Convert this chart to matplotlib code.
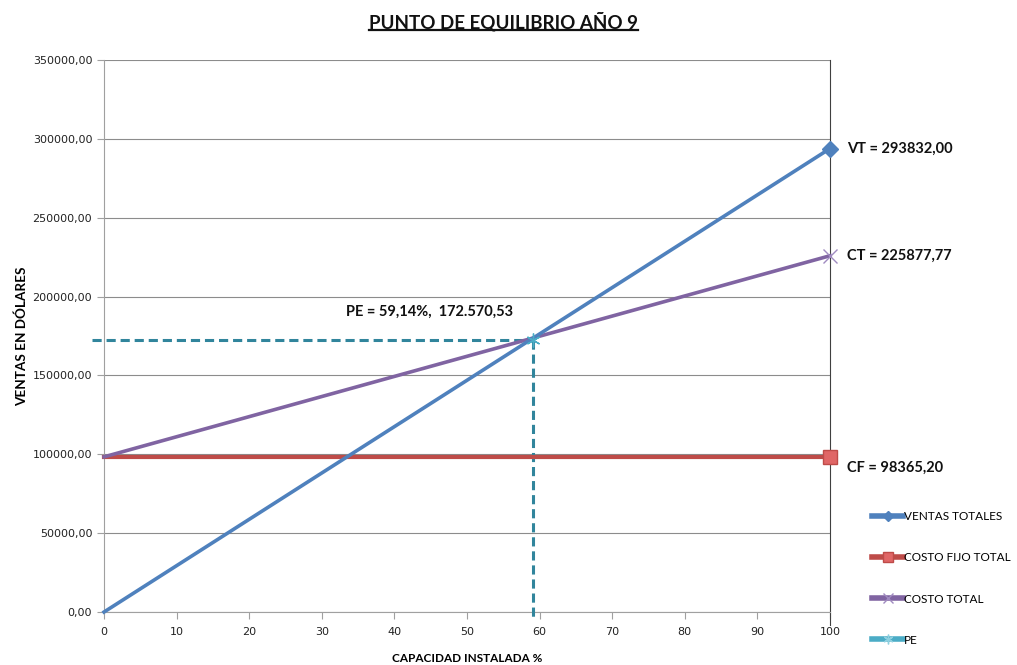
import matplotlib
matplotlib.use("Agg")
import matplotlib.pyplot as plt
from matplotlib.lines import Line2D
from matplotlib.ticker import FuncFormatter

# Break-even data (year 9)
capacidad = [0, 100]
ventas_totales = [0.0, 293832.00]
costo_fijo = [98365.20, 98365.20]
costo_total = [98365.20, 225877.77]
pe_x = 59.14
pe_y = 172570.53

y_ticks = [0, 50000, 100000, 150000, 200000, 250000, 300000, 350000]
x_ticks = [0, 10, 20, 30, 40, 50, 60, 70, 80, 90, 100]

C_VT = "#4F81BD"
C_CF = "#BE4B48"
C_CT = "#8064A2"
C_PE = "#4BACC6"
C_PE_DASH = "#31859C"

plt.rcParams['font.family'] = ['Lato', 'DejaVu Sans']

fig = plt.figure(figsize=(10.17, 6.65), dpi=100)
ax = fig.add_axes([0.1023, 0.0797, 0.8161 - 0.1023, 0.9098 - 0.0797])

ax.set_xlim(0, 100)
ax.set_ylim(0, 350000)
ax.set_yticks(y_ticks)
ax.set_xticks(x_ticks)
ax.yaxis.set_major_formatter(FuncFormatter(lambda v, p: f"{v:.2f}".replace(".", ",")))
ax.grid(axis="y", color="#8c8c8c", lw=0.8)
ax.set_axisbelow(True)
ax.spines["top"].set_visible(False)
ax.spines["left"].set_color("#a0a0a0")
ax.spines["bottom"].set_color("#a0a0a0")
ax.spines["right"].set_color("#404040")
ax.spines["right"].set_bounds(-8000, 350000)
ax.tick_params(axis="both", direction="out", length=5, color="#a0a0a0",
               labelsize=8, labelcolor="#222222")
for lab in ax.get_xticklabels() + ax.get_yticklabels():
    lab.set_family("DejaVu Sans")
ax.tick_params(axis="x", pad=6)

# PE guide lines
ax.plot([-1.6, pe_x], [pe_y, pe_y], ls=(0, (3, 1.6)), color=C_PE_DASH, lw=2.2, clip_on=False, zorder=3)
ax.plot([pe_x, pe_x], [pe_y, -3000], ls=(0, (3, 1.6)), color=C_PE_DASH, lw=2.2, clip_on=False, zorder=3)

ax.plot(capacidad, costo_fijo, color=C_CF, lw=3.0, marker="s", markevery=[1], ms=10,
        mfc="#E06666", mec=C_CF, clip_on=False, zorder=4)
ax.plot(capacidad, costo_total, color=C_CT, lw=2.6, marker="x", markevery=[1], ms=10,
        mew=1.0, mec="#A08BC0", clip_on=False, zorder=5)
ax.plot(capacidad, ventas_totales, color=C_VT, lw=2.6, marker="D", markevery=[1], ms=8,
        mfc=C_VT, mec=C_VT, clip_on=False, zorder=6)
ax.plot([pe_x], [pe_y], marker=(6, 2, 0), ms=10, color=C_PE, mew=1.0, zorder=7)

# Value labels
lab_kw = dict(fontsize=10.5, fontweight="bold", color="#111111", family="Lato")
ax.annotate("VT = 293832,00", (100, ventas_totales[1]), xytext=(12, 0),
            textcoords="offset points", va="center", ha="left", annotation_clip=False, **lab_kw)
ax.annotate("CT = 225877,77", (100, costo_total[1]), xytext=(12, 0),
            textcoords="offset points", va="center", ha="left", annotation_clip=False, **lab_kw)
ax.annotate("CF = 98365,20", (100, costo_fijo[1]), xytext=(12, -8),
            textcoords="offset points", va="center", ha="left", annotation_clip=False, **lab_kw)
ax.annotate("PE = 59,14%,  172.570,53", (pe_x, pe_y), xytext=(-75, 20),
            textcoords="offset points", va="center", ha="center", annotation_clip=False, **lab_kw)

ax.set_ylabel("VENTAS EN DÓLARES", fontsize=9.7, fontweight="bold")
ax.set_xlabel("CAPACIDAD INSTALADA %", fontsize=8.5, fontweight="bold")
ax.xaxis.set_label_coords(0.5, -0.075)
ax.yaxis.set_label_coords(-0.105, 0.50)

title = fig.text(0.495, 0.967, "PUNTO DE EQUILIBRIO AÑO 9", ha="center", va="center",
                 fontsize=13.5, fontweight="bold", color="#111111")

# Legend
handles = [
    Line2D([], [], color=C_VT, lw=4, marker="D", ms=5, mfc=C_VT),
    Line2D([], [], color=C_CF, lw=4, marker="s", ms=7, mfc="#E06666", mec=C_CF),
    Line2D([], [], color=C_CT, lw=4, marker="x", ms=7, mec="#A08BC0"),
    Line2D([], [], color=C_PE, lw=4, marker=(6, 2, 0), ms=7, mec="#8fd0e0"),
]
labels = ["VENTAS TOTALES", "COSTO FIJO TOTAL", "COSTO TOTAL", "PE"]
fig.legend(handles, labels, loc="upper left", bbox_to_anchor=(0.852, 0.240),
           frameon=False, fontsize=8.5, handlelength=2.6, handletextpad=0.05,
           labelspacing=2.55, borderpad=0)

# Underline the title
fig.canvas.draw()
bb = title.get_window_extent().transformed(fig.transFigure.inverted())
fig.add_artist(Line2D([bb.x0, bb.x1], [bb.y0 + 0.002, bb.y0 + 0.002], color="#111111",
                      lw=1.6, transform=fig.transFigure))

fig.savefig("out.png", dpi=100)
